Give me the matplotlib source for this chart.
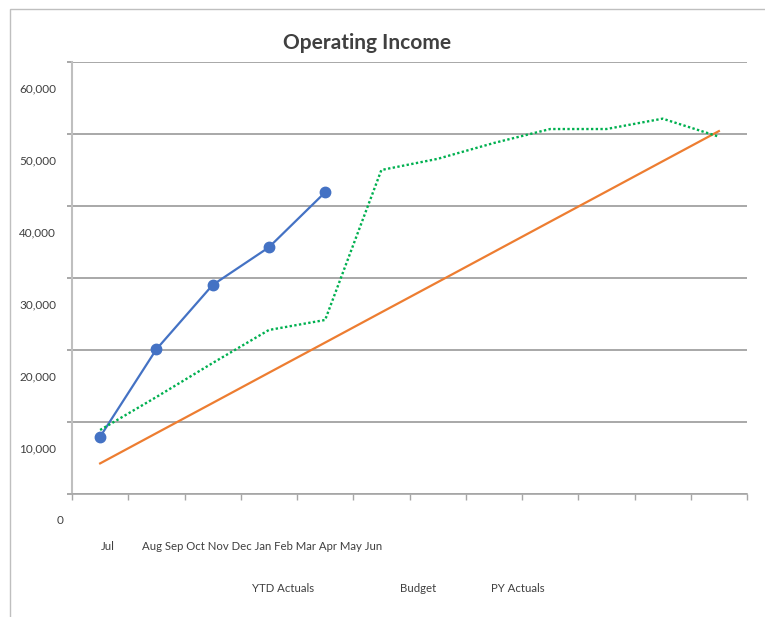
import numpy as np
import matplotlib
matplotlib.use("Agg")
from matplotlib import pyplot as plt
from matplotlib.patches import Rectangle
from matplotlib.transforms import blended_transform_factory

plt.rcParams["font.family"] = ["Lato", "DejaVu Sans"]

# data
months = ["Jul", "Aug", "Sep", "Oct", "Nov", "Dec", "Jan", "Feb", "Mar", "Apr", "May", "Jun"]
series_names = ["YTD Actuals", "Budget", "PY Actuals"]
ytd_actuals = [11700, 23850, 32780, 38010, 45650]
budget = [8000, 12200, 16390, 20590, 24780, 28980, 33170, 37370, 41570, 45760, 49960, 54150]
py_actuals = [12640, 17220, 21940, 26530, 27920, 48750, 50300, 52500, 54440, 54440, 55880, 53380]
y_labels = [0, 10000, 20000, 30000, 40000, 50000, 60000]

W, H = 765, 617
fig = plt.figure(figsize=(W / 100, H / 100), dpi=100)
ax = fig.add_axes([72 / W, (H - 494) / H, (747 - 72) / W, (494 - 62) / H])

x = np.arange(len(months))
ax.plot(x[:len(ytd_actuals)], ytd_actuals, color="#4472C4", lw=1.6,
        marker="o", ms=7.5, zorder=3)
ax.plot(x, budget, color="#ED7D31", lw=1.6, zorder=2)
ax.plot(x, py_actuals, color="#00B050", lw=1.7, linestyle=(0, (1, 1)), zorder=4)

# gridlines sit a bit above the value labels, as in the original
grid_vals = [v + 3750 for v in y_labels]
ax.set_ylim(grid_vals[0], grid_vals[-1])
ax.set_xlim(-0.5, len(months) - 0.5)
ax.set_yticks(grid_vals)
ax.set_yticklabels([])
ax.set_xticks(np.arange(len(months) + 1) - 0.5)
ax.set_xticklabels([])
ax.grid(axis="y", color="#999999", lw=1.2)
ax.tick_params(axis="y", direction="out", length=3.6, color="#999999", width=1.2)
ax.tick_params(axis="x", direction="out", length=4, color="#a6a6a6", width=1)
for s in ["top", "right"]:
    ax.spines[s].set_visible(False)
ax.spines["left"].set_color("#bfbfbf")
ax.spines["left"].set_linewidth(1.5)
ax.spines["bottom"].set_color("#a6a6a6")
ax.spines["bottom"].set_linewidth(1.2)

# value labels
tr = blended_transform_factory(fig.transFigure, ax.transData)
for v in y_labels:
    xp = 64 if v == 0 else 56
    ax.text(xp / W, v, f"{v:,}", transform=tr, ha="right", va="center",
            fontsize=8.5, color="#404040")

# month labels, bunched up like the original
fig.text(107.5 / W, 1 - 547 / H, months[0], ha="center", va="center",
         fontsize=8.2, color="#404040")
fig.text(142 / W, 1 - 547 / H, " ".join(months[1:]), ha="left", va="center",
         fontsize=8.2, color="#404040")

# legend names without keys
for name, xp in zip(series_names, [252, 400, 491]):
    fig.text(xp / W, 1 - 588 / H, name, ha="left", va="center",
             fontsize=8.2, color="#404040")

fig.text(367 / W, 1 - 43 / H, "Operating Income", ha="center", va="center",
         fontsize=15, fontweight="bold", color="#404040")

fig.add_artist(Rectangle((10 / W, -0.05), 1.1, (H - 8.5) / H + 0.05,
                         transform=fig.transFigure, fill=False,
                         ec="#bfbfbf", lw=1))

fig.savefig("out.png", dpi=100)
